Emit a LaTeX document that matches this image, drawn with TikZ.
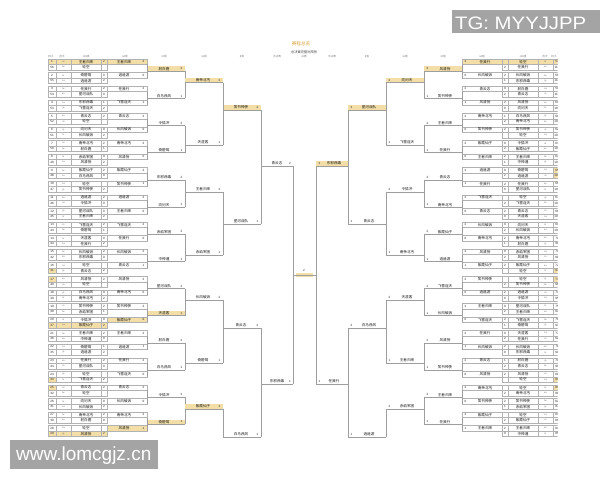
\documentclass[tikz,border=0pt]{standalone}
\usepackage{fontspec}
\setmainfont{Liberation Sans}
\newfontfamily\cjk{Noto Sans CJK SC}
\usetikzlibrary{positioning}

\definecolor{hlfill}{HTML}{F2DEA6}
\definecolor{gridc}{HTML}{B2B2B2}
\definecolor{linec}{HTML}{9E9E9E}
\definecolor{wmgray}{HTML}{A4A4A4}
\definecolor{titlec}{HTML}{DBA23C}

% 队名（示意）
\newcommand\tname[1]{\ifcase#1 王者归来\or 东邪西毒\or 南帝北丐\or 中神通\or 飞雪连天\or 射白鹿\or 笑书神侠\or 倚碧鸳\or 青云志\or 赤焰军团\or 逍遥游\or 天涯客\or 风清扬\or 令狐冲\or 任我行\or 向问天\or 紫霞仙子\or 星河战队\or 长风破浪\or 白马西风\fi}
\newcommand\tcode[1]{\ifcase#1 cn\or kr\or tw\or na\or eu\or jp\fi}

\begin{document}
\begin{tikzpicture}[x=1pt, y=-1pt,
		cell/.style={draw=gridc, line width=0.35pt},
		link/.style={draw=linec, line width=0.6pt},
		hlbar/.style={fill=hlfill},
		tiny/.style={font=\cjk\fontsize{3.6}{3.6}\selectfont, inner sep=0pt, text=black!90},
		code/.style={font=\fontsize{2.3}{2.3}\selectfont, inner sep=0pt, text=black!60},
		num/.style={font=\fontsize{3.1}{3.1}\selectfont, inner sep=0pt, text=black!85},
		head/.style={font=\cjk\fontsize{2.6}{2.6}\selectfont, inner sep=0pt, text=black!50}]
		% 画布 600 * 480
		\useasboundingbox (0, 0) rectangle (600, 480);
		\fill[white] (0, 0) rectangle (600, 480);

		% 标题
		\node[font=\cjk\fontsize{4.6}{4.6}\selectfont, text=titlec, inner sep=0pt] (title) at (301, 44) {赛程总览};
		\node[head, text=black!75, font=\cjk\fontsize{3.2}{3.2}\selectfont] (subtitle) at (304, 52) {总决赛完整对阵图};

		% 表头
		\foreach \x/\t [count=\n] in {51/种子, 62/选手, 86/128强, 125/64强, 164/32强, 204/16强, 242/8强, 277/半决赛, 304/决赛, 332/半决赛, 367/8强, 405/16强, 443/32强, 482/64强, 523/128强, 545/选手, 554/种子} {
				\node[head] (hd-\n) at (\x, 56.5) {\t};
			}

		% ===== 左半区 =====
		% 第一列：每组两行，第二列：晋级者
		\foreach \i in {0,...,27} {
				\pgfmathtruncatemacro\wr{mod(\i, 2)}
				\foreach \r in {0, 1} {
						\pgfmathsetmacro\y{61.7 + 13.58 * \i + 5.5 * \r}
						\pgfmathtruncatemacro\nm{mod(7 * \i + 3 * \r, 20)}
						\pgfmathtruncatemacro\cd{mod(\i + 2 * \r, 6)}
						\pgfmathtruncatemacro\sd{(\r == 0) ? (\i + 1) : (56 - \i)}
						\pgfmathtruncatemacro\bye{(\r != \wr) && ((\i==0) || (\i==4) || (\i==9) || (\i==15) || (\i==16) || (\i==23) || (\i==24) || (\i==27))}
						\pgfmathtruncatemacro\sc{(\r == \wr) ? 2 : (mod(\i, 3) == 0)}
						\pgfmathtruncatemacro\hlrow{(\r == \wr) && ((\i==0) || (\i==19) || (\i==27))}
						\pgfmathtruncatemacro\hlseed{((\i==15) && (\r==1)) || ((\i==16) && (\r==0)) || ((\i==23) && (\r==1)) || ((\i==24) && (\r==0))}
						\ifnum\hlrow=1 \fill[hlbar] (48, \y - 2.75) rectangle (107, \y + 2.75); \fi
						\ifnum\hlseed=1 \fill[hlbar] (48, \y - 2.75) rectangle (56, \y + 2.75); \fi
						\draw[cell] (48, \y - 2.75) rectangle (56, \y + 2.75) (56, \y - 2.75) rectangle (71, \y + 2.75) (71, \y - 2.75) rectangle (101, \y + 2.75) (101, \y - 2.75) rectangle (107, \y + 2.75);
						\node[num] (L1s-\i-\r) at (52, \y) {\sd};
						\node[code] (L1c-\i-\r) at (63.5, \y) {\tcode{\cd}};
						\ifnum\bye=1
							\node[tiny] (L1n-\i-\r) at (86, \y) {轮空};
						\else
							\node[tiny] (L1n-\i-\r) at (86, \y) {\tname{\nm}};
							\node[num] (L1p-\i-\r) at (104, \y) {\sc};
						\fi
					}
				\pgfmathsetmacro\ya{61.7 + 13.58 * \i}
				\pgfmathtruncatemacro\nw{mod(7 * \i + 3 * \wr, 20)}
				\pgfmathtruncatemacro\hltwo{(\i==0) || (\i==19) || (\i==27)}
				\pgfmathtruncatemacro\st{(mod(\i, 2) == 0) ? 2 : (mod(\i, 3) == 0)}
				\ifnum\hltwo=1 \fill[hlbar] (107, \ya - 2.75) rectangle (147, \ya + 2.75); \fi
				\draw[cell] (107, \ya - 2.75) rectangle (147, \ya + 2.75);
				\coordinate (L2-\i) at (147, \ya + 2.75);
				\node[tiny] (L2n-\i) at (124, \ya) {\tname{\nw}};
				\node[num] (L2p-\i) at (143.5, \ya) {\st};
			}

		% 第三列
		\foreach \k in {0,...,13} {
				\pgfmathsetmacro\yy{71.24 + 27.16 * \k}
				\pgfmathtruncatemacro\a{2 * \k}
				\pgfmathtruncatemacro\b{2 * \k + 1}
				\pgfmathtruncatemacro\nm{mod(14 * \k + 5, 20)}
				\pgfmathtruncatemacro\sc{(mod(\k, 2) == 0) ? 2 : 1}
				\pgfmathtruncatemacro\hl{(\k==0) || (\k==9) || (\k==13)}
				\ifnum\hl=1 \fill[hlbar] (147, \yy - 4.8) rectangle (185, \yy); \fi
				\draw[link] (L2-\a) -- (L2-\b);
				\draw[link] (147, \yy) -- (185, \yy) coordinate (L3-\k);
				\node[tiny] (L3n-\k) at (164, \yy - 2.4) {\tname{\nm}};
				\node[num] (L3p-\k) at (181.5, \yy - 2.4) {\sc};
			}
		\foreach \k in {0, 2, ..., 12} {
				\pgfmathtruncatemacro\kk{\k + 1}
				\draw[link] (L3-\k) -- (L3-\kk);
			}

		% 第四列
		\foreach \j/\yy/\hl/\s in {0/82.7/1/2, 1/145/0/1, 2/192/0/2, 3/255/0/1, 4/300/0/2, 5/363/0/1, 6/409/1/2} {
				\pgfmathtruncatemacro\nm{mod(9 * \j + 2, 20)}
				\ifnum\hl=1 \fill[hlbar] (185, \yy - 4.8) rectangle (223, \yy); \fi
				\draw[link] (185, \yy) -- (223, \yy) coordinate (L4-\j);
				\node[tiny] (L4n-\j) at (203, \yy - 2.4) {\tname{\nm}};
				\node[num] (L4p-\j) at (219.5, \yy - 2.4) {\s};
			}

		% 第五列
		\foreach \j/\yy/\hl/\s in {0/110/1/2, 1/224/0/1, 2/328/0/2, 3/437/0/1} {
				\pgfmathtruncatemacro\nm{mod(11 * \j + 6, 20)}
				\ifnum\hl=1 \fill[hlbar] (223, \yy - 4.8) rectangle (261, \yy); \fi
				\draw[link] (223, \yy) coordinate (L5s-\j) -- (261, \yy) coordinate (L5-\j);
				\node[tiny] (L5n-\j) at (241, \yy - 2.4) {\tname{\nm}};
				\node[num] (L5p-\j) at (257.5, \yy - 2.4) {\s};
			}
		\draw[link] (L4-0) -- (L4-1) (L4-2) -- (L4-3) (L4-4) -- (L4-5) (L4-6) -- (L5s-3);

		% 半决赛
		\foreach \j/\yy/\s in {0/166/2, 1/384/1} {
				\pgfmathtruncatemacro\nm{mod(13 * \j + 8, 20)}
				\draw[link] (261, \yy) coordinate (L6s-\j) -- (293, \yy) coordinate (L6-\j);
				\node[tiny] (L6n-\j) at (277, \yy - 2.4) {\tname{\nm}};
				\node[num] (L6p-\j) at (290, \yy - 2.4) {\s};
			}
		\draw[link] (L5-0) -- (L5-1) (L5-2) -- (L5-3);
		\draw[link] (L6-0) -- (L6-1);

		% ===== 右半区 =====
		\begin{scope}
			\clip (0, 0) rectangle (557.5, 480);
			\foreach \i in {0,...,27} {
					\pgfmathtruncatemacro\wr{mod(\i + 1, 2)}
					\foreach \r in {0, 1} {
							\pgfmathsetmacro\y{61.7 + 13.58 * \i + 5.5 * \r}
							\pgfmathtruncatemacro\nm{mod(7 * \i + 3 * \r + 11, 20)}
							\pgfmathtruncatemacro\cd{mod(\i + 3 * \r + 1, 6)}
							\pgfmathtruncatemacro\sd{(\r == 0) ? (\i + 57) : (112 - \i)}
							\pgfmathtruncatemacro\bye{(\r != \wr) && ((\i==0) || (\i==5) || (\i==10) || (\i==15) || (\i==16) || (\i==23) || (\i==24) || (\i==26))}
							\pgfmathtruncatemacro\sc{(\r == \wr) ? 2 : (mod(\i, 3) == 1)}
							\pgfmathtruncatemacro\hlrow{(\i==0) && (\r==0)}
							\pgfmathtruncatemacro\hlseed{((\i==8) && (\r==0)) || ((\i==8) && (\r==1)) || ((\i==15) && (\r==1)) || ((\i==16) && (\r==0)) || ((\i==23) && (\r==1)) || ((\i==24) && (\r==0))}
							\ifnum\hlrow=1 \fill[hlbar] (502, \y - 2.75) rectangle (561, \y + 2.75); \fi
							\ifnum\hlseed=1 \fill[hlbar] (553, \y - 2.75) rectangle (561, \y + 2.75); \fi
							\draw[cell] (502, \y - 2.75) rectangle (508, \y + 2.75) (508, \y - 2.75) rectangle (538, \y + 2.75) (538, \y - 2.75) rectangle (553, \y + 2.75) (553, \y - 2.75) rectangle (561, \y + 2.75);
							\node[num] (R1s-\i-\r) at (557, \y) {\sd};
							\node[code] (R1c-\i-\r) at (545.5, \y) {\tcode{\cd}};
							\ifnum\bye=1
								\node[tiny] (R1n-\i-\r) at (523, \y) {轮空};
							\else
								\node[tiny] (R1n-\i-\r) at (523, \y) {\tname{\nm}};
								\node[num] (R1p-\i-\r) at (505, \y) {\sc};
							\fi
						}
					\pgfmathsetmacro\ya{61.7 + 13.58 * \i}
					\pgfmathtruncatemacro\nw{mod(7 * \i + 3 * \wr + 11, 20)}
					\pgfmathtruncatemacro\st{(mod(\i, 2) == 0) ? 2 : (mod(\i, 3) == 0)}
					\ifnum\i=0 \fill[hlbar] (462, \ya - 2.75) rectangle (502, \ya + 2.75); \fi
					\draw[cell] (462, \ya - 2.75) rectangle (502, \ya + 2.75);
					\coordinate (R2-\i) at (462, \ya + 2.75);
					\node[tiny] (R2n-\i) at (485, \ya) {\tname{\nw}};
					\node[num] (R2p-\i) at (465.5, \ya) {\st};
				}
		\end{scope}

		% 右第三列
		\foreach \k in {0,...,13} {
				\pgfmathsetmacro\yy{71.24 + 27.16 * \k}
				\pgfmathtruncatemacro\a{2 * \k}
				\pgfmathtruncatemacro\b{2 * \k + 1}
				\pgfmathtruncatemacro\nm{mod(14 * \k + 12, 20)}
				\pgfmathtruncatemacro\sc{(mod(\k, 2) == 0) ? 2 : 1}
				\ifnum\k=0 \fill[hlbar] (424, \yy - 4.8) rectangle (462, \yy); \fi
				\draw[link] (R2-\a) -- (R2-\b);
				\draw[link] (462, \yy) -- (424, \yy) coordinate (R3-\k);
				\node[tiny] (R3n-\k) at (445, \yy - 2.4) {\tname{\nm}};
				\node[num] (R3p-\k) at (427.5, \yy - 2.4) {\sc};
			}
		\foreach \k in {0, 2, ..., 12} {
				\pgfmathtruncatemacro\kk{\k + 1}
				\draw[link] (R3-\k) -- (R3-\kk);
			}

		% 右第四列
		\foreach \j/\yy/\hl/\s in {0/82.7/1/2, 1/145/0/1, 2/192/0/2, 3/255/0/1, 4/300/0/2, 5/363/0/1, 6/409/0/2} {
				\pgfmathtruncatemacro\nm{mod(9 * \j + 15, 20)}
				\ifnum\hl=1 \fill[hlbar] (386, \yy - 4.8) rectangle (424, \yy); \fi
				\draw[link] (424, \yy) -- (386, \yy) coordinate (R4-\j);
				\node[tiny] (R4n-\j) at (407, \yy - 2.4) {\tname{\nm}};
				\node[num] (R4p-\j) at (389.5, \yy - 2.4) {\s};
			}

		% 右第五列
		\foreach \j/\yy/\hl/\s in {0/110/1/2, 1/224/0/1, 2/328/0/2, 3/437/0/1} {
				\pgfmathtruncatemacro\nm{mod(11 * \j + 17, 20)}
				\ifnum\hl=1 \fill[hlbar] (348, \yy - 4.8) rectangle (386, \yy); \fi
				\draw[link] (386, \yy) coordinate (R5s-\j) -- (348, \yy) coordinate (R5-\j);
				\node[tiny] (R5n-\j) at (369, \yy - 2.4) {\tname{\nm}};
				\node[num] (R5p-\j) at (351.5, \yy - 2.4) {\s};
			}
		\draw[link] (R4-0) -- (R4-1) (R4-2) -- (R4-3) (R4-4) -- (R4-5) (R4-6) -- (R5s-3);

		% 右半决赛
		\foreach \j/\yy/\hl/\s in {0/166/1/2, 1/384/0/1} {
				\pgfmathtruncatemacro\nm{mod(13 * \j + 1, 20)}
				\ifnum\hl=1 \fill[hlbar] (316, \yy - 4.8) rectangle (348, \yy); \fi
				\draw[link] (348, \yy) coordinate (R6s-\j) -- (316, \yy) coordinate (R6-\j);
				\node[tiny] (R6n-\j) at (334, \yy - 2.4) {\tname{\nm}};
				\node[num] (R6p-\j) at (319.5, \yy - 2.4) {\s};
			}
		\draw[link] (R5-0) -- (R5-1) (R5-2) -- (R5-3);
		\draw[link] (R6-0) -- (R6-1);

		% 决赛
		\coordinate (FL) at (293, 275);
		\coordinate (FR) at (316, 275);
		\fill[hlbar] (296, 273.3) rectangle (313, 276.7);
		\draw[link] (FL) -- (FR);
		\node[num] (final) at (304, 270.6) {2};

		% 水印
		\fill[wmgray] (451.7, 10) rectangle (600, 33.3);
		\node[anchor=base west, text=white, inner sep=0pt, font=\fontsize{18}{18}\selectfont] (tg) at (455, 29) {\scalebox{1.13}[1]{TG: MYYJJPP}};
		\fill[wmgray] (10, 440) rectangle (158, 469.3);
		\node[anchor=base west, text=white, inner sep=0pt, font=\fontsize{19}{19}\selectfont] (site) at (16, 460) {www.lomcgjz.cn};
	\end{tikzpicture}
\end{document}
